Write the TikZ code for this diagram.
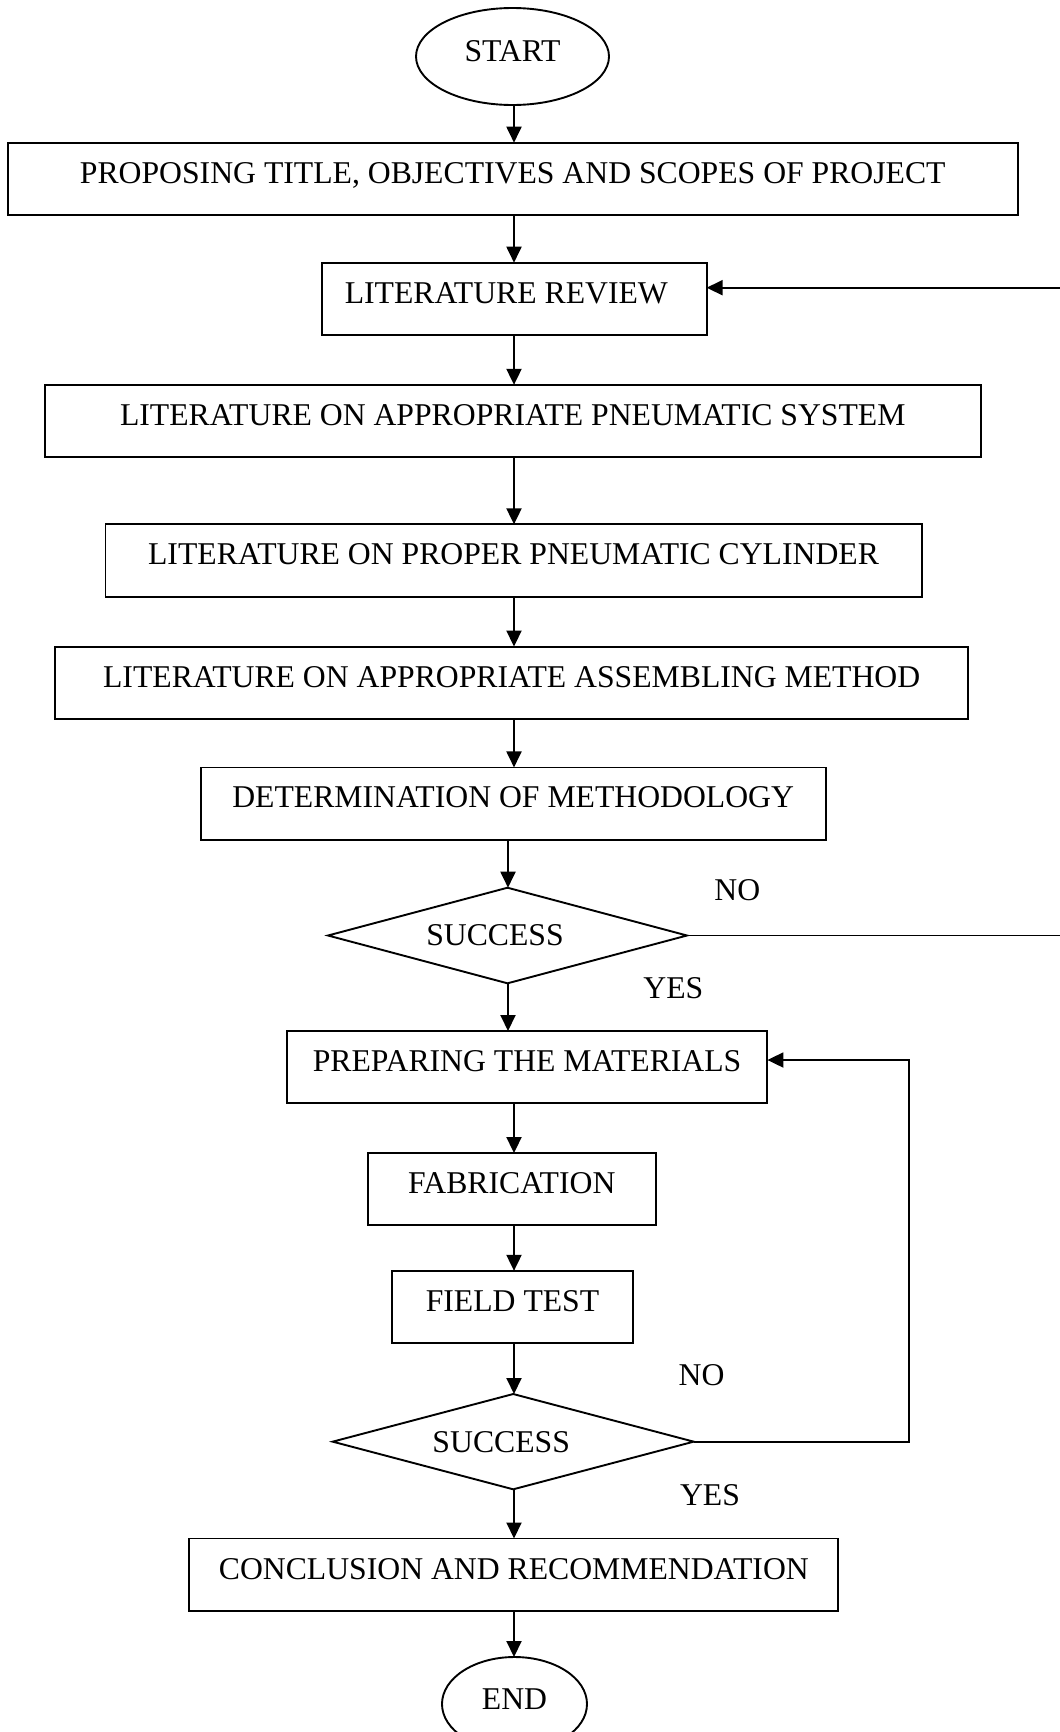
\documentclass[tikz,border=0pt]{standalone}
\usepackage{fontspec}
\setmainfont{Liberation Serif}
\usetikzlibrary{shapes.geometric,arrows.meta}
\begin{document}
\begin{tikzpicture}[x=1pt,y=-1pt,line width=1.9pt,
  every node/.style={font=\fontsize{31.7pt}{38pt}\selectfont},
  procbox/.style={draw, rectangle, inner sep=0pt, outer sep=0pt,
    minimum height=72.3pt, text height=40.5pt, text depth=31.8pt},
  decision/.style={draw, diamond, aspect=3.75, inner sep=0pt, outer sep=0pt,
    text height=20.7pt, text depth=0pt},
  terminal/.style={draw, ellipse, inner sep=0pt, outer sep=0pt,
    text height=20.7pt, text depth=10.3pt},
  lab/.style={anchor=base, inner sep=0pt},
  arr/.style={-{Triangle[length=16pt,width=15pt]}}]
\useasboundingbox (0,0) rectangle (1060,1732);
\fill[white] (0,0) rectangle (1060,1732);
\clip (0,0) rectangle (1060,1732);

% nodes
\node[terminal, minimum width=193pt, minimum height=97pt] (start) at (512.5,56.5) {START};
\node[procbox, minimum width=1009.6pt] (prop) at (512.8,178.85) {PROPOSING TITLE, OBJECTIVES AND SCOPES OF PROJECT};
\node[procbox, minimum width=384.6pt] (lit) at (514.3,298.85) {\hspace*{-16pt}LITERATURE REVIEW};
\node[procbox, minimum width=936.4pt] (sys) at (512.8,421) {LITERATURE ON APPROPRIATE PNEUMATIC SYSTEM};
\node[procbox, minimum width=816.1pt] (cyl) at (513.55,560.5) {LITERATURE ON PROPER PNEUMATIC CYLINDER};
\node[procbox, minimum width=912.6pt] (asm) at (511.7,682.7) {LITERATURE ON APPROPRIATE ASSEMBLING METHOD};
\node[procbox, minimum width=624.8pt] (det) at (513.2,803.6) {DETERMINATION OF METHODOLOGY};
\node[decision, minimum width=359pt, minimum height=95.6pt] (dia1) at (507.5,935.5) {\hspace*{-25pt}SUCCESS};
\node[procbox, minimum width=480.7pt] (prep) at (527.05,1067.15) {PREPARING THE MATERIALS};
\node[procbox, minimum width=288pt] (fab) at (511.8,1189.2) {FABRICATION};
\node[procbox, minimum width=241pt] (field) at (512.5,1307) {FIELD TEST};
\node[decision, minimum width=361pt, minimum height=95.3pt] (dia2) at (513.2,1441.65) {\hspace*{-24pt}SUCCESS};
\node[procbox, minimum width=649.1pt] (concl) at (513.85,1574.65) {CONCLUSION AND RECOMMENDATION};
\node[terminal, minimum width=145pt, minimum height=94pt] (end) at (514.5,1704) {END};

% labels
\node[lab] (no1) at (737.3,900) {NO};
\node[lab] (yes1) at (673.4,998.3) {YES};
\node[lab] (no2) at (701.5,1385) {NO};
\node[lab] (yes2) at (710,1505) {YES};

% helper coordinates
\coordinate (ax) at (514,0);
\coordinate (bx) at (508,0);
\coordinate (r1) at (1064,287.7);
\coordinate (c2) at (908.7,1060);

% main flow
\draw[arr] (start.south -| ax) -- (prop.north -| ax);
\draw[arr] (prop.south -| ax) -- (lit.north -| ax);
\draw[arr] (lit.south -| ax) -- (sys.north -| ax);
\draw[arr] (sys.south -| ax) -- (cyl.north -| ax);
\draw[arr] (cyl.south -| ax) -- (asm.north -| ax);
\draw[arr] (asm.south -| ax) -- (det.north -| ax);
\draw[arr] (det.south -| bx) -- (dia1.north -| bx);
\draw[arr] (dia1.south -| bx) -- (prep.north -| bx);
\draw[arr] (prep.south -| ax) -- (fab.north -| ax);
\draw[arr] (fab.south -| ax) -- (field.north -| ax);
\draw[arr] (field.south -| ax) -- (dia2.north -| ax);
\draw[arr] (dia2.south -| ax) -- (concl.north -| ax);
\draw[arr] (concl.south -| ax) -- (end.north -| ax);

% loops
\draw (dia1.east) -- (dia1.east -| r1);
\draw[arr] (r1) -- (r1 -| lit.east);
\draw[arr] (dia2.east) -| (c2) -- (c2 -| prep.east);
\end{tikzpicture}
\end{document}
